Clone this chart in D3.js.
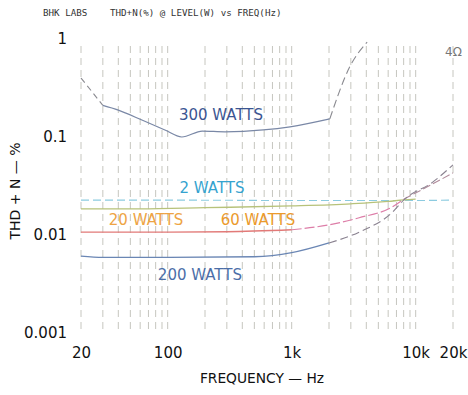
<!DOCTYPE html>
<html><head><meta charset="utf-8">
<script src="https://cdn.jsdelivr.net/npm/d3@7"></script>
<style>body{margin:0;background:#fff}svg{display:block}</style>
</head><body>
<svg id="c" width="468" height="395"></svg>
<script>
// ---- data ----
const xTicks = [20, 100, 1000, 10000, 20000];
const xTickLabels = ["20", "100", "1k", "10k", "20k"];
const yTicks = [1, 0.1, 0.01, 0.001];
const yTickLabels = ["1", "0.1", "0.01", "0.001"];
const gridFreqs = [20,30,40,50,60,70,80,90,100,200,300,400,500,600,700,800,900,1000,2000,3000,4000,5000,6000,7000,8000,9000,10000,20000];

const f300 = [20, 24, 30, 40, 62, 95, 130, 190, 290, 590, 970, 2030, 2940, 4060];
const v300 = [0.40, 0.30, 0.21, 0.188, 0.149, 0.118, 0.100, 0.115, 0.113, 0.118, 0.127, 0.153, 0.52, 0.93];
const f2 = [20, 100, 1000, 10000, 20000];
const v2 = [0.0227, 0.0227, 0.0225, 0.0225, 0.0227];
const f60 = [20, 60, 200, 1000, 3000, 6000, 8000, 10000];
const v60 = [0.0185, 0.0185, 0.019, 0.0198, 0.0208, 0.022, 0.0228, 0.0232];
const f20 = [20, 100, 300, 1000, 2000, 3500, 6500, 8000, 12400, 20000];
const v20 = [0.0107, 0.0107, 0.0108, 0.0113, 0.0127, 0.015, 0.0194, 0.0232, 0.031, 0.043];
const f200 = [20, 30, 100, 500, 1000, 2000, 3500, 6500, 8000, 13800, 20000];
const v200 = [0.0061, 0.0059, 0.0059, 0.006, 0.0066, 0.0083, 0.0107, 0.0171, 0.0227, 0.0348, 0.052];

const seriesLabels = ["300 WATTS", "2 WATTS", "20 WATTS", "60 WATTS", "200 WATTS"];
const labelFreqs = [269, 228, 67, 535, 182];
const labelValues = [0.148, 0.0268, 0.01265, 0.0126, 0.00347];

// ---- scales ----
const svg = d3.select("#c");
const x = d3.scaleLog().domain([20, 20000]).range([81, 453]);
const y = d3.scaleLog().domain([0.001, 1]).range([333, 39]);

// title
svg.append("text").attr("x", 43).attr("y", 16).attr("font-family", "DejaVu Sans Mono")
  .attr("font-size", 9.2).attr("fill", "#333").text("BHK LABS");
svg.append("text").attr("x", 110).attr("y", 16).attr("font-family", "DejaVu Sans Mono")
  .attr("font-size", 9.2).attr("fill", "#333").text("THD+N(%) @ LEVEL(W) vs FREQ(Hz)");

// grid
svg.append("g").selectAll("line").data(gridFreqs).join("line")
  .attr("x1", d => x(d)).attr("x2", d => x(d))
  .attr("y1", 46).attr("y2", 330)
  .attr("stroke", "#b8b8ae").attr("stroke-width", 0.8)
  .attr("stroke-dasharray", "7,5");

// axes
const fontFam = "DejaVu Sans";
const ya = svg.append("g").attr("transform", "translate(81,0)")
  .call(d3.axisLeft(y).tickValues(yTicks).tickSize(0).tickPadding(14)
    .tickFormat((d, i) => yTickLabels[i]));
const xa = svg.append("g").attr("transform", "translate(0,333)")
  .call(d3.axisBottom(x).tickValues(xTicks).tickSize(0).tickPadding(14)
    .tickFormat((d, i) => xTickLabels[i]));
[ya, xa].forEach(g => {
  g.select(".domain").remove();
  g.selectAll("text").attr("font-family", fontFam).attr("font-size", 15).attr("fill", "#111");
});

svg.append("text").attr("x", 262).attr("y", 383).attr("text-anchor", "middle")
  .attr("font-family", fontFam).attr("font-size", 13.8).attr("fill", "#111")
  .text("FREQUENCY — Hz");
svg.append("text").attr("transform", "translate(20,191) rotate(-90)").attr("text-anchor", "middle")
  .attr("font-family", fontFam).attr("font-size", 14).attr("fill", "#111")
  .text("THD + N — %");
svg.append("text").attr("x", 445).attr("y", 56).attr("font-family", fontFam)
  .attr("font-size", 12).attr("fill", "#777").text("4Ω");

// lines
const line = d3.line().x(d => x(d[0])).y(d => y(d[1])).curve(d3.curveMonotoneX);
function draw(fs, vs, color, width, dash) {
  svg.append("path").datum(fs.map((f, i) => [f, vs[i]]))
    .attr("d", line).attr("fill", "none").attr("stroke", color)
    .attr("stroke-width", width).attr("stroke-dasharray", dash);
}
function pick(fs, vs, a, b) { return [fs.slice(a, b), vs.slice(a, b)]; }

draw(f2, v2, "#8ccbe0", 1.1, "8,4");
draw(f60, v60, "#b7c27a", 1.3, null);
draw(...pick(f20, v20, 0, 4), "#e27a78", 1.4, null);
draw(...pick(f20, v20, 3, 8), "#dd7ea8", 1.2, "10,3");
draw(...pick(f20, v20, 7, 10), "#b08a9a", 1.1, "8,3");
draw(...pick(f200, v200, 0, 6), "#6a86b4", 1.3, null);
draw(...pick(f200, v200, 5, 11), "#8a8290", 1.1, "8,4");
draw(...pick(f300, v300, 0, 3), "#8a8a90", 1.1, "6,4");
draw(...pick(f300, v300, 2, 12), "#7a88a6", 1.2, null);
draw(...pick(f300, v300, 11, 14), "#8a8a90", 1.1, "8,4");

// labels
const labelColors = ["#3b5592", "#35a3cf", "#eea444", "#eb9a2c", "#4b6ea8"];
svg.append("g").selectAll("text").data(seriesLabels).join("text")
  .attr("x", (d, i) => x(labelFreqs[i])).attr("y", (d, i) => y(labelValues[i]))
  .attr("text-anchor", "middle").attr("font-family", fontFam).attr("font-size", 15)
  .attr("fill", (d, i) => labelColors[i]).text(d => d);
</script>
</body></html>
